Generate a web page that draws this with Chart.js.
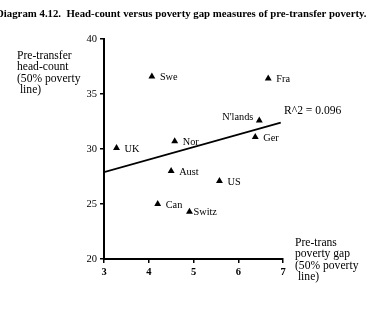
<!DOCTYPE html>
<html>
<head>
<meta charset="utf-8">
<script src="https://cdn.jsdelivr.net/npm/chart.js@4.4.0/dist/chart.umd.min.js"></script>
<style>
  html, body { margin: 0; padding: 0; background: #fff; }
  #wrap { width: 380px; height: 310px; position: relative; }
</style>
</head>
<body>
<div id="wrap"><canvas id="chart" width="380" height="310"></canvas></div>
<script>
// Data
const countries = ['Swe', 'Fra', "N'lands", 'Ger', 'Nor', 'UK', 'Aust', 'US', 'Can', 'Switz'];
const povertyGap = [4.07, 6.67, 6.47, 6.38, 4.58, 3.28, 4.50, 5.58, 4.20, 4.91];
const headCount = [36.6, 36.4, 32.6, 31.1, 30.7, 30.1, 28.0, 27.1, 25.0, 24.3];
const fitX = [3, 6.95];
const fitY = [27.9, 32.4];
const xTicks = [3, 4, 5, 6, 7];
const yTicks = [20, 25, 30, 35, 40];

const title = 'Diagram 4.12.  Head-count versus poverty gap measures of pre-transfer poverty.';
const yTitle = ['Pre-transfer', 'head-count', '(50% poverty', ' line)'];
const xTitle = ['Pre-trans', 'poverty gap', '(50% poverty', ' line)'];
const fitLabel = 'R^2 = 0.096';

const SERIF = '"Liberation Serif", "DejaVu Serif", serif';

// Extra text: title, axis titles, point labels
const textPlugin = {
    id: 'texts',
    afterDatasetsDraw(chart) {
        const ctx = chart.ctx;
        const xs = chart.scales.x, ys = chart.scales.y;
        ctx.save();
        ctx.fillStyle = '#000';
        ctx.textBaseline = 'middle';

        ctx.font = 'bold 10.8px ' + SERIF;
        ctx.textAlign = 'left';
        ctx.fillText(title, -4, 14);

        ctx.font = '11.6px ' + SERIF;
        yTitle.forEach((t, i) => ctx.fillText(t, 17, 56 + i * 11.3));
        xTitle.forEach((t, i) => ctx.fillText(t, 295, 243 + i * 11.3));

        ctx.font = '10.3px ' + SERIF;
        countries.forEach((c, i) => {
            const px = xs.getPixelForValue(povertyGap[i]);
            const py = ys.getPixelForValue(headCount[i]);
            if (c === "N'lands") {
                ctx.textAlign = 'right';
                ctx.fillText(c, px - 6, py - 3);
            } else {
                ctx.textAlign = 'left';
                ctx.fillText(c, px + (c === 'Switz' ? 4 : 8), py + 1);
            }
        });

        ctx.font = '11.6px ' + SERIF;
        ctx.textAlign = 'left';
        ctx.fillText(fitLabel, 284, 111);
        ctx.restore();
    }
};

new Chart(document.getElementById('chart'), {
    type: 'scatter',
    data: {
        datasets: [
            {
                label: 'Countries',
                data: countries.map((c, i) => ({ x: povertyGap[i], y: headCount[i] })),
                pointStyle: 'triangle',
                pointRadius: 4,
                backgroundColor: '#000',
                borderColor: '#000',
                borderWidth: 0
            },
            {
                label: 'Fit',
                type: 'line',
                data: fitX.map((x, i) => ({ x: x, y: fitY[i] })),
                borderColor: '#000',
                borderWidth: 1.8,
                pointRadius: 0,
                fill: false
            }
        ]
    },
    options: {
        responsive: false,
        animation: false,
        devicePixelRatio: 1,
        layout: { padding: { left: 0, top: 39, right: 97, bottom: 0 } },
        plugins: { legend: { display: false }, tooltip: { enabled: false } },
        scales: {
            x: {
                type: 'linear',
                min: 3, max: 7,
                afterFit: s => { s.height = 51; },
                afterBuildTicks: s => { s.ticks = xTicks.map(v => ({ value: v })); },
                border: { color: '#000', width: 2 },
                grid: { drawOnChartArea: false, drawTicks: true, tickLength: 4, color: '#000', lineWidth: 1.5 },
                ticks: { color: '#000', font: { family: SERIF, size: 10.5, weight: 'bold' }, padding: 3, maxRotation: 0 }
            },
            y: {
                type: 'linear',
                min: 20, max: 40,
                afterFit: s => { s.width = 104; },
                afterBuildTicks: s => { s.ticks = yTicks.map(v => ({ value: v })); },
                border: { color: '#000', width: 2 },
                grid: { drawOnChartArea: false, drawTicks: true, tickLength: 4, color: '#000', lineWidth: 1.5 },
                ticks: { color: '#000', font: { family: SERIF, size: 10.5 }, padding: 3 }
            }
        }
    },
    plugins: [textPlugin]
});
</script>
</body>
</html>
